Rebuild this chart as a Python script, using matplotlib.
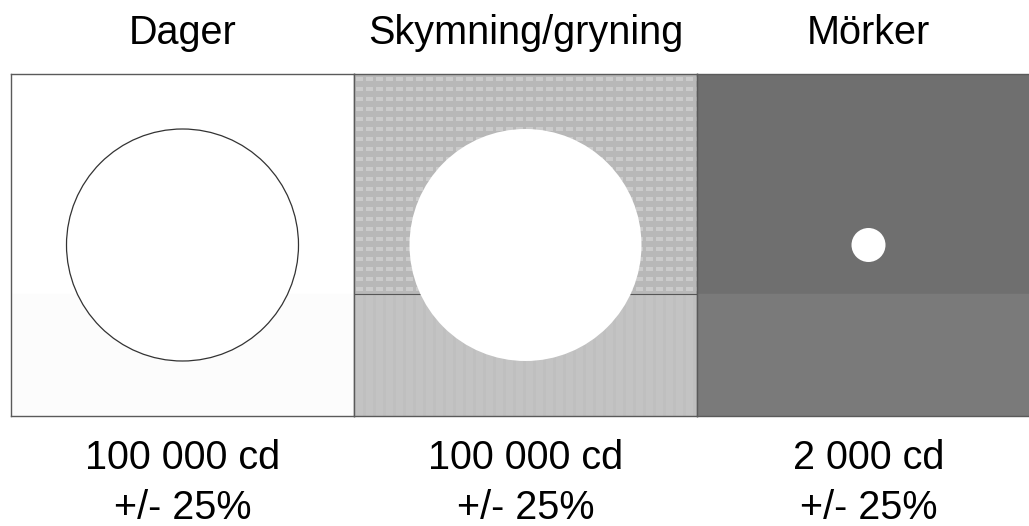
import numpy as np
import matplotlib.pyplot as plt
from matplotlib.patches import Circle, Rectangle

# panel labels and values
titles = ['Dager', 'Skymning/gryning', 'Mörker']
intensity = ['100 000 cd', '100 000 cd', '2 000 cd']
tolerance = ['+/- 25%', '+/- 25%', '+/- 25%']
light_radius = [116, 116, 17]   # size of the light spot in each panel
upper_bg = ['#ffffff', '#b8b8b8', '#6f6f6f']
lower_bg = ['#fcfcfc', '#c1c1c1', '#7a7a7a']

plt.rcParams['font.family'] = ['Liberation Sans', 'DejaVu Sans']

W, H = 1029, 526
fig = plt.figure(figsize=(W / 100, H / 100), dpi=100)

left0, pw = 11, 343     # panel left edge and width (px)
top, ph = 74, 342       # panel top edge and height (px)
split = 122             # height of the lower band inside a panel

for i, title in enumerate(titles):
    x0 = left0 + i * pw
    ax = fig.add_axes([x0 / W, 1 - (top + ph) / H, pw / W, ph / H])

    ax.add_patch(Rectangle((0, split), pw, ph - split, color=upper_bg[i], zorder=0))
    ax.add_patch(Rectangle((0, 0), pw, split, color=lower_bg[i], zorder=0))

    if i == 1:
        # dotted screen texture of the twilight panel
        yy, xx = np.mgrid[0:ph - split, 0:pw]
        tex = np.where((xx % 10 >= 2) & (xx % 10 < 9) & (yy % 10 >= 3) & (yy % 10 < 7), 203, 184)
        ax.imshow(tex, cmap='gray', vmin=0, vmax=255, extent=(0, pw, split, ph),
                  interpolation='nearest', aspect='auto', zorder=1)
        yy, xx = np.mgrid[0:split, 0:pw]
        tex2 = np.where((xx % 10 >= 2) & (xx % 10 < 9), 196, 191)
        ax.imshow(tex2, cmap='gray', vmin=0, vmax=255, extent=(0, pw, 0, split),
                  interpolation='nearest', aspect='auto', zorder=1)
        ax.axhline(split, color='#555555', lw=0.8, zorder=2)

    edge = '#333333' if i == 0 else 'none'
    ax.add_patch(Circle((pw / 2, ph / 2), light_radius[i], facecolor='white',
                        edgecolor=edge, lw=0.9, zorder=3))

    ax.set_xlim(0, pw)
    ax.set_ylim(0, ph)
    ax.set_xticks([])
    ax.set_yticks([])
    for s in ax.spines.values():
        s.set_color('#5a5a5a')
        s.set_linewidth(1)

    cx = (x0 + pw / 2) / W
    fig.text(cx, 1 - 44 / H, title, ha='center', va='baseline', fontsize=28.5)
    fig.text(cx, 1 - 469 / H, intensity[i], ha='center', va='baseline', fontsize=28.5)
    fig.text(cx, 1 - 519 / H, tolerance[i], ha='center', va='baseline', fontsize=28.5)

fig.savefig('out.png', dpi=100)
